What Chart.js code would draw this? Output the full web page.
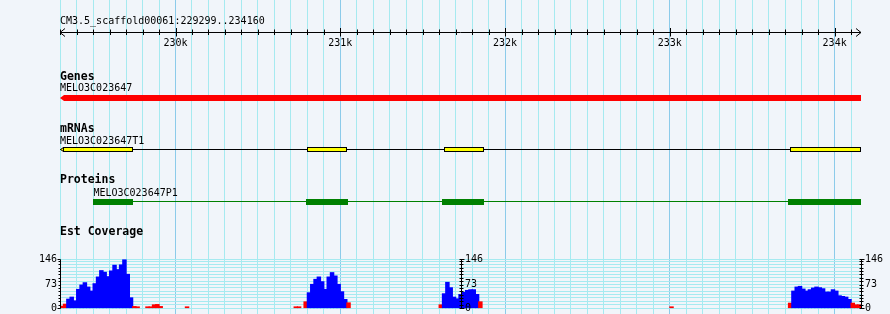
<!DOCTYPE html>
<html><head><meta charset="utf-8">
<script src="https://cdn.jsdelivr.net/npm/chart.js@4/dist/chart.umd.min.js"></script>
<style>
html,body{margin:0;padding:0;background:#F1F5FA;}
#wrap{width:890px;height:314px;position:relative;}
canvas{display:block;background:#F1F5FA;}
</style></head>
<body><div id="wrap"><canvas id="c" width="890" height="314"></canvas></div>
<script>
// ---------------- data ----------------
const regionName = "CM3.5_scaffold00061";
const viewStart = 229299;
const viewEnd = 234160;
const rulerStep = 100;
const rulerLabelValues = [230000, 231000, 232000, 233000, 234000];
const rulerLabels = ["230k", "231k", "232k", "233k", "234k"];

const trackTitles = ["Genes", "mRNAs", "Proteins", "Est Coverage"];

const geneName = "MELO3C023647";
const geneSpan = [229299, 234160];

const mrnaName = "MELO3C023647T1";
const exonStarts = [229299, 230795, 231630, 233727];
const exonEnds   = [229739, 231040, 231870, 234160];

const proteinName = "MELO3C023647P1";
const cdsStarts = [229502, 230789, 231615, 233715];
const cdsEnds   = [229739, 231044, 231870, 234160];

// EST coverage (20 bp bins), one array per covered stretch
const covMax = 146;
const covAxisTicks = [0, 10, 20, 30, 40, 50, 60, 70, 80, 90, 100, 110, 120, 130, 140, 146];
const covAxisLabels = [0, 73, 146];
const covBinBp = 20;
const covLowThreshold = 20;
const covSegStarts = [229300, 229820, 230060, 230720, 230780, 231600, 233000, 233720];
const cov1 = [5, 11, 26, 32, 21, 55, 68, 75, 62, 50, 72, 92, 111, 106, 93, 110, 127, 114, 128, 143, 100, 30, 4, 3];
const cov2 = [3, 3, 9, 10, 4];
const cov3 = [3];
const cov4 = [3, 3];
const cov5 = [18, 45, 70, 85, 92, 78, 55, 92, 105, 95, 70, 48, 25, 15];
const cov6 = [9, 42, 76, 60, 32, 27, 40, 46, 52, 54, 54, 40, 18];
const cov7 = [3];
const cov8 = [14, 50, 62, 64, 56, 50, 54, 59, 62, 60, 57, 47, 47, 54, 50, 36, 34, 32, 25, 14, 9, 9];
const covSegValues = [cov1, cov2, cov3, cov4, cov5, cov6, cov7, cov8];

// ---------------- layout / style ----------------
const W = 890, H = 314;
const covTopPx = 259, covBottomPx = 308;
const covRange = covMax * H / (covBottomPx - covTopPx);
const covScaleMin = -(H - covBottomPx) * covRange / H;
const covScaleMax = covScaleMin + covRange;

const BLUE = '#0000FF', RED = '#FF0000', YELLOW = '#FFFF00', GREEN = '#008000';
const GRID = '#A6EAF0', GRID_MAJOR = '#8CCBEA';
const FONT = "10px 'DejaVu Sans Mono', monospace";
const BOLD = "bold 11.5px 'DejaVu Sans Mono', monospace";

const covPoints = [];
covSegStarts.forEach((s, k) => {
  covSegValues[k].forEach((v, i) => covPoints.push({x: s + i * covBinBp + covBinBp / 2, y: v}));
});
const covColors = covPoints.map(p => p.y < covLowThreshold ? RED : BLUE);

const gridValues = [];
for (let v = Math.ceil(viewStart / rulerStep) * rulerStep; v <= viewEnd; v += rulerStep) gridValues.push(v);

const drawPlugin = {
  id: 'tracks',
  afterDatasetsDraw(chart) {
    const ctx = chart.ctx;
    const px = v => chart.scales.x.getPixelForValue(v);
    const py = v => chart.scales.yC.getPixelForValue(v);
    const x0 = px(viewStart), x1 = px(viewEnd);
    ctx.save();
    ctx.fillStyle = '#000';
    ctx.strokeStyle = '#000';
    ctx.lineWidth = 1;
    // ---- ruler ----
    ctx.font = FONT;
    ctx.textAlign = 'left';
    ctx.textBaseline = 'alphabetic';
    ctx.fillText(regionName + ":" + viewStart + ".." + viewEnd, x0, 24);
    const ry = 32.5;
    ctx.beginPath();
    ctx.moveTo(x0, ry); ctx.lineTo(x1, ry);
    ctx.moveTo(x0 + 5, ry - 4); ctx.lineTo(x0, ry); ctx.lineTo(x0 + 5, ry + 4);
    ctx.moveTo(x1 - 5, ry - 4); ctx.lineTo(x1, ry); ctx.lineTo(x1 - 5, ry + 4);
    gridValues.forEach(v => {
      const xx = Math.round(px(v)) + 0.5;
      const major = rulerLabelValues.includes(v);
      ctx.moveTo(xx, major ? 28 : 29.5); ctx.lineTo(xx, major ? 36.5 : 35);
    });
    ctx.stroke();
    ctx.textAlign = 'center';
    rulerLabelValues.forEach((v, i) => ctx.fillText(rulerLabels[i], px(v), 46));

    // ---- track titles ----
    ctx.textAlign = 'left';
    ctx.font = BOLD;
    ctx.fillText(trackTitles[0], x0, 80);
    ctx.fillText(trackTitles[1], x0, 132);
    ctx.fillText(trackTitles[2], x0, 183);
    ctx.fillText(trackTitles[3], x0, 235);

    // ---- gene ----
    ctx.font = FONT;
    ctx.fillText(geneName, px(geneSpan[0]), 91);
    const g0 = px(geneSpan[0]), g1 = px(geneSpan[1]);
    ctx.fillStyle = RED;
    ctx.beginPath();
    ctx.moveTo(g0, 98); ctx.lineTo(g0 + 4, 95); ctx.lineTo(g1, 95);
    ctx.lineTo(g1, 101); ctx.lineTo(g0 + 4, 101); ctx.closePath();
    ctx.fill();

    // ---- mRNA ----
    ctx.fillStyle = '#000';
    ctx.fillText(mrnaName, px(exonStarts[0]), 144);
    ctx.beginPath();
    ctx.moveTo(px(exonStarts[0]), 149.5); ctx.lineTo(px(exonEnds[exonEnds.length - 1]), 149.5);
    ctx.stroke();
    exonStarts.forEach((s, i) => {
      let a = Math.round(px(s)), b = Math.round(px(exonEnds[i]));
      if (i === 0) {
        ctx.fillStyle = YELLOW;
        ctx.beginPath();
        ctx.moveTo(a + 0.5, 149.5); ctx.lineTo(a + 3.5, 147.5); ctx.lineTo(a + 3.5, 151.5); ctx.closePath();
        ctx.fill(); ctx.stroke();
        a += 3;
      }
      ctx.fillStyle = YELLOW;
      ctx.fillRect(a, 147, b - a, 5);
      ctx.strokeRect(a + 0.5, 147.5, b - a - 1, 4);
    });

    // ---- protein ----
    ctx.fillStyle = '#000';
    ctx.fillText(proteinName, px(cdsStarts[0]), 196);
    ctx.strokeStyle = GREEN;
    ctx.beginPath();
    ctx.moveTo(px(cdsStarts[0]), 201.5); ctx.lineTo(px(cdsEnds[cdsEnds.length - 1]), 201.5);
    ctx.stroke();
    ctx.fillStyle = GREEN;
    cdsStarts.forEach((s, i) => {
      const a = Math.round(px(s)), b = Math.round(px(cdsEnds[i]));
      ctx.fillRect(a, 199, b - a, 6);
    });

    // ---- coverage axes ----
    ctx.strokeStyle = '#000';
    ctx.fillStyle = '#000';
    ctx.font = FONT;
    ctx.textBaseline = 'middle';
    const axes = [
      {x: Math.round(x0), side: 'left'},
      {x: Math.round((x0 + x1) / 2), side: 'both'},
      {x: Math.round(x1), side: 'both'}
    ];
    axes.forEach(ax => {
      const xx = ax.x + 0.5;
      ctx.beginPath();
      ctx.moveTo(xx, Math.round(py(0)) + 0.5);
      ctx.lineTo(xx, Math.round(py(covMax)) + 0.5);
      covAxisTicks.forEach(t => {
        const yy = Math.round(py(t)) + 0.5;
        const major = covAxisLabels.includes(t);
        if (ax.side === 'left') {
          ctx.moveTo(xx - (major ? 3 : 2), yy); ctx.lineTo(xx, yy);
        } else {
          ctx.moveTo(xx - 2, yy); ctx.lineTo(xx + (major ? 3 : 2), yy);
        }
      });
      ctx.stroke();
      covAxisLabels.forEach(t => {
        if (ax.side === 'left') {
          ctx.textAlign = 'right';
          ctx.fillText(String(t), xx - 3.5, py(t) + 0.5);
        } else {
          ctx.textAlign = 'left';
          ctx.fillText(String(t), xx + 3.5, py(t) + 0.5);
        }
      });
    });
    ctx.restore();
  }
};

new Chart(document.getElementById('c'), {
  type: 'bar',
  data: {
    datasets: [{
      data: covPoints,
      backgroundColor: covColors,
      borderWidth: 0,
      inflateAmount: 0.6,
      barPercentage: 1,
      categoryPercentage: 1,
      xAxisID: 'x',
      yAxisID: 'yC'
    }]
  },
  options: {
    responsive: false,
    animation: false,
    events: [],
    layout: {padding: {left: 60, right: 29, top: 0, bottom: 0}},
    plugins: {legend: {display: false}, tooltip: {enabled: false}, title: {display: false}},
    scales: {
      x: {
        type: 'linear',
        min: viewStart,
        max: viewEnd,
        offset: false,
        position: 'bottom',
        afterBuildTicks: s => { s.ticks = gridValues.map(v => ({value: v})); },
        afterFit: s => { s.height = 0; },
        ticks: {display: false},
        border: {display: false},
        grid: {
          offset: false,
          drawTicks: false,
          lineWidth: 1,
          color: c => (c.tick && c.tick.value % 1000 === 0) ? GRID_MAJOR : GRID
        }
      },
      yC: {
        type: 'linear',
        position: 'left',
        min: covScaleMin,
        max: covScaleMax,
        afterBuildTicks: s => { s.ticks = covAxisTicks.map(v => ({value: v})); },
        afterFit: s => { s.width = 0; },
        ticks: {display: false},
        border: {display: false},
        grid: {drawTicks: false, lineWidth: 1, color: GRID}
      }
    }
  },
  plugins: [drawPlugin]
});
</script>
</body></html>
